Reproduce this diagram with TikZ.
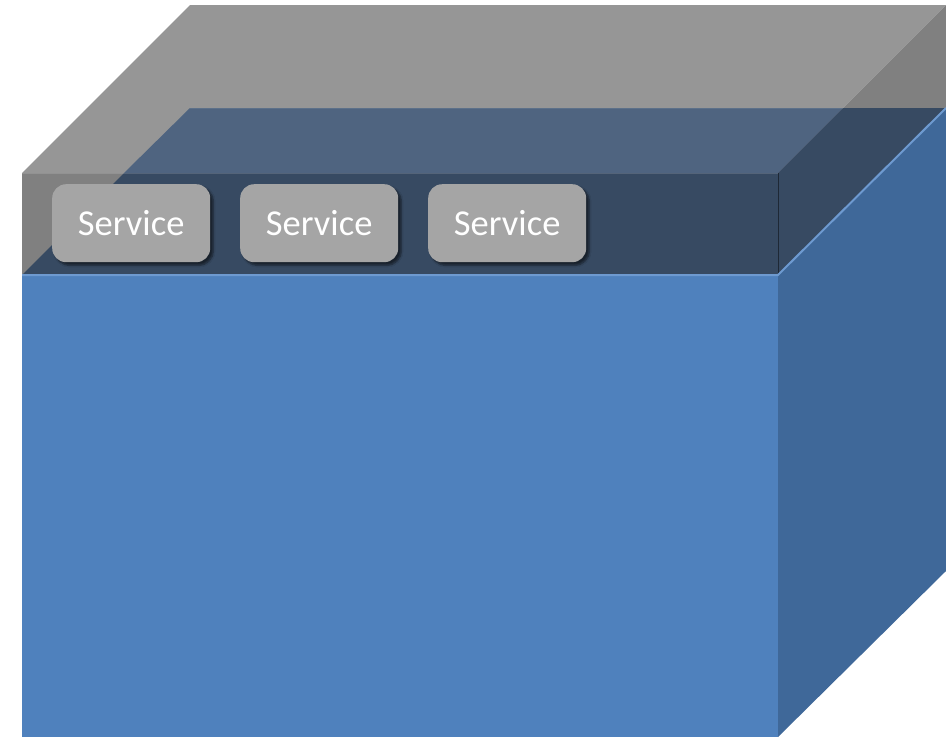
\documentclass[tikz,border=0pt]{standalone}
\usepackage{fontspec}
\setmainfont{Carlito}
\usetikzlibrary{shadows.blur}
\definecolor{bluefront}{HTML}{4F81BD}
\definecolor{blueside}{HTML}{3F6899}
\definecolor{graytop}{HTML}{969696}
\definecolor{grayface}{HTML}{808080}
\definecolor{mixtop}{HTML}{4F6480}
\definecolor{mixface}{HTML}{374A62}
\definecolor{edgehl}{HTML}{6E9AD0}
\definecolor{svcfill}{HTML}{A5A5A5}
\tikzset{
  svc/.style={draw=none, fill=svcfill, rounded corners=14pt, minimum width=158pt,
    minimum height=78pt, text=white, font=\fontsize{36.5}{40}\selectfont,
    inner sep=0pt, anchor=north west,
    blur shadow={shadow xshift=3pt, shadow yshift=-3pt, shadow blur steps=6,
      shadow blur extra rounding=2pt, shadow opacity=55}},
  face/.style={draw=none}
}
\begin{document}
\begin{tikzpicture}[x=1pt,y=-1pt]
\useasboundingbox (0,0) rectangle (946,737);
% blue box
\fill[bluefront] (22,275) rectangle (778,737);
\fill[blueside] (778,275) -- (946,108) -- (946,571) -- (778,737) -- cycle;
% gray lid (top face, front face, right face)
\fill[graytop] (22,173) -- (190,5) -- (946,5) -- (778,173) -- cycle;
\fill[grayface] (22,173) rectangle (778,275);
\fill[grayface] (778,173) -- (946,5) -- (946,108) -- (778,275) -- cycle;
% parts of lid over the blue top face
\fill[mixtop] (124,173) -- (190,108) -- (843,108) -- (778,173) -- cycle;
\fill[mixface] (22,275) -- (124,173) -- (778,173) -- (843,108) -- (946,108) -- (778,275) -- cycle;
% edges
\draw[white, opacity=0.15, line width=1pt] (22,173.5) -- (778,173.5);
\draw[white, opacity=0.08, line width=1pt] (190,108.5) -- (843,108.5);
\draw[black, opacity=0.45, line width=0.8pt] (778,173) -- (778,275);
\draw[edgehl, line width=2pt] (22,275) -- (778,275) -- (946,108);
% services
\node[svc] (s1) at (52,184) {Service};
\node[svc] (s2) at (240,184) {Service};
\node[svc] (s3) at (428,184) {Service};
\end{tikzpicture}
\end{document}
